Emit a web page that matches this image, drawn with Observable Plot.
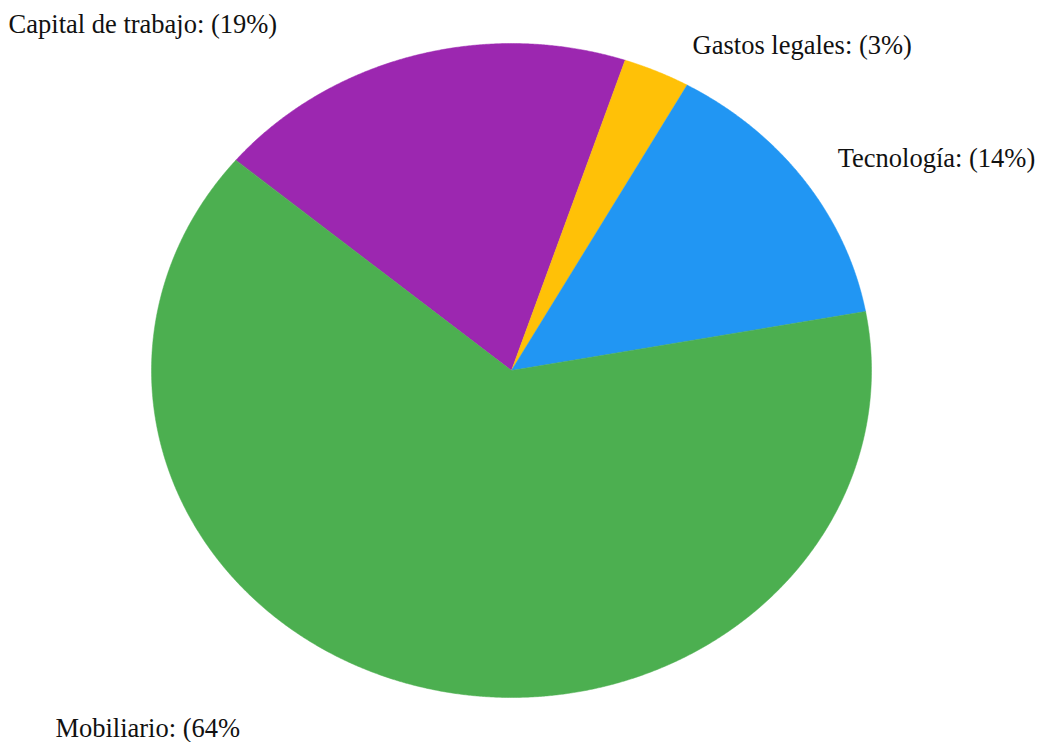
<!DOCTYPE html>
<html>
<head>
<meta charset="utf-8">
<script src="https://cdn.jsdelivr.net/npm/d3@7"></script>
<script src="https://cdn.jsdelivr.net/npm/@observablehq/plot@0.6"></script>
<style>
  html, body { margin: 0; padding: 0; background: #fff; }
  #chart { width: 1041px; height: 742px; }
</style>
</head>
<body>
<div id="chart"></div>
<script>
// --- data ---
const categories = ["Capital de trabajo", "Gastos legales", "Tecnología", "Mobiliario"];
const shares = [19, 3, 14, 64];
const labels = ["Capital de trabajo: (19%)", "Gastos legales: (3%)", "Tecnología: (14%)", "Mobiliario: (64%"];
const colors = ["#9c27b0", "#ffc107", "#2196f3", "#4caf50"];

// --- layout (label anchors in pie units, start angle in degrees clockwise from top) ---
const startAngleDeg = -50;
const labelX = [-1.397, 0.503, 0.906, -1.267];
const labelY = [1.031, 0.969, 0.621, -1.122];

const total = d3.sum(shares);
const pts = [];
let a0 = startAngleDeg * Math.PI / 180;
categories.forEach((c, i) => {
  const span = shares[i] / total * 2 * Math.PI;
  const a1 = a0 + span;
  pts.push({cat: c, x: 0, y: 0});
  const n = Math.max(2, Math.ceil(span / (Math.PI / 720)));
  for (let k = 0; k <= n; k++) {
    const a = a0 + span * k / n;
    pts.push({cat: c, x: Math.sin(a), y: Math.cos(a)});
  }
  a0 = a1;
});

const labelData = categories.map((c, i) => ({cat: c, text: labels[i], x: labelX[i], y: labelY[i]}));

const chart = Plot.plot({
  width: 1041,
  height: 742,
  margin: 0,
  x: {domain: [-1, 1], range: [151, 871], axis: null},
  y: {domain: [-1, 1], range: [697, 43], axis: null},
  color: {domain: categories, range: colors},
  style: {fontFamily: "'Liberation Serif', 'Times New Roman', serif", background: "#fff"},
  marks: [
    Plot.line(pts, {x: "x", y: "y", z: "cat", fill: "cat", stroke: "cat", strokeWidth: 0.5, curve: "linear-closed"}),
    Plot.text(labelData, {x: "x", y: "y", text: "text", textAnchor: "start", lineAnchor: "bottom", fontSize: 26.5, fill: "#111", clip: false})
  ]
});
document.getElementById("chart").appendChild(chart);
</script>
</body>
</html>
